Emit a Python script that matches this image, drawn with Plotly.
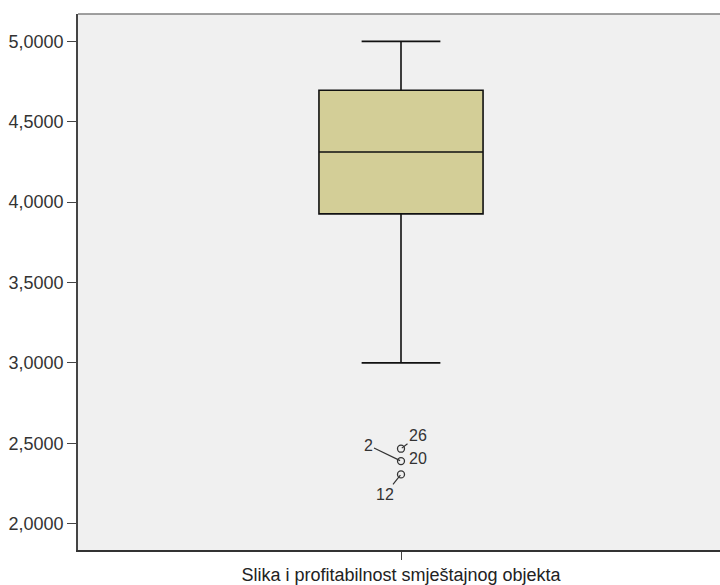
import plotly.graph_objects as go

category = "Slika i profitabilnost smještajnog objekta"
q1 = [3.927]
median = [4.312]
q3 = [4.696]
lower_whisker = [3.0]
upper_whisker = [5.0]
outlier_values = [2.466, 2.389, 2.306]
outlier_labels = ["26", "20", "2", "12"]
label_values = [2.466, 2.389, 2.389, 2.306]
y_ticks = [2.0, 2.5, 3.0, 3.5, 4.0, 4.5, 5.0]
y_tick_text = [f"{v:.4f}".replace(".", ",") for v in y_ticks]

FONT = "Liberation Sans, Arial, sans-serif"

fig = go.Figure()
fig.add_trace(go.Box(
    x=[0], q1=q1, median=median, q3=q3,
    lowerfence=lower_whisker, upperfence=upper_whisker,
    width=0.254, whiskerwidth=0.48,
    fillcolor="#D3CE97", line=dict(color="#111111", width=1.6),
    boxpoints=False, showlegend=False, hoverinfo="skip",
))
fig.add_trace(go.Scatter(
    x=[0] * len(outlier_values), y=outlier_values, mode="markers",
    marker=dict(symbol="circle-open", size=7, color="#333333", line=dict(width=1.3)),
    showlegend=False, hoverinfo="skip",
))

offsets = {"26": (17, -13, True), "20": (17, 3, False), "2": (-33, -16, True), "12": (-16, 20, True)}
for lab, val in zip(outlier_labels, label_values):
    ax, ay, arrow = offsets[lab]
    if arrow:
        fig.add_annotation(x=0, y=val, text=lab, showarrow=True, arrowhead=0,
                           arrowwidth=1.2, arrowcolor="#333333", ax=ax, ay=ay, standoff=1,
                           font=dict(size=16, color="#333333", family=FONT))
    else:
        fig.add_annotation(x=0, y=val, text=lab, showarrow=False, xshift=ax, yshift=ay,
                           font=dict(size=16, color="#333333", family=FONT))

fig.add_shape(type="line", xref="paper", yref="paper", x0=0, x1=1, y0=1, y1=1,
              line=dict(color="#808080", width=1.5))

fig.update_layout(
    width=720, height=585,
    margin=dict(l=78, r=0, t=14, b=33),
    paper_bgcolor="white", plot_bgcolor="#F0F0F0",
    font=dict(family=FONT, size=18, color="#333333"),
    xaxis=dict(range=[-0.5, 0.4938], tickvals=[0], ticktext=[category],
               showgrid=False, zeroline=False, showline=True, linecolor="#333333",
               linewidth=1.5, ticks="outside", ticklen=8, tickcolor="#444444",
               tickfont=dict(size=18, color="#222222", family=FONT)),
    yaxis=dict(range=[1.836, 5.170], tickvals=y_ticks, ticktext=y_tick_text,
               showgrid=False, zeroline=False, showline=True, linecolor="#444444",
               linewidth=1.5, ticks="outside", ticklen=9, tickcolor="#444444",
               tickfont=dict(size=18, color="#333333", family=FONT)),
)
fig.write_html("out.html", config={"displayModeBar": False},
               post_script="document.body.style.margin='0';document.body.style.overflow='hidden';")
